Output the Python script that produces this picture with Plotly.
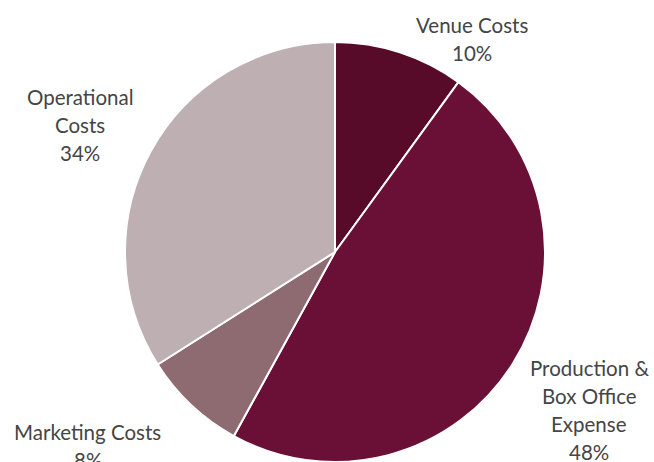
import plotly.graph_objects as go

categories = ["Venue Costs", "Production & Box Office Expense", "Marketing Costs", "Operational Costs"]
values = [10, 48, 8, 34]
colors = ["#580A29", "#6A1036", "#8E6A71", "#BDAFB2"]
# label line breaks as displayed
label_lines = [
    ["Venue Costs"],
    ["Production &", "Box Office", "Expense"],
    ["Marketing Costs"],
    ["Operational", "Costs"],
]

W, H = 654, 462
cx, cy, r = 335, 252, 210

fig = go.Figure(go.Pie(
    labels=categories,
    values=values,
    sort=False,
    direction="clockwise",
    rotation=0,
    marker=dict(colors=colors, line=dict(color="white", width=2)),
    textinfo="none",
    hoverinfo="label+percent",
    showlegend=False,
    domain=dict(x=[(cx - r) / W, (cx + r) / W], y=[(H - cy - r) / H, (H - cy + r) / H]),
))

# label anchor: (center x px, first line y px)
label_pos = [(472, 25), (589, 368), (88, 432), (80, 97)]
line_h = 28
annotations = []
total = sum(values)
for lines, v, (px, py) in zip(label_lines, values, label_pos):
    all_lines = lines + [f"{round(100 * v / total)}%"]
    for i, t in enumerate(all_lines):
        y = py + i * line_h
        annotations.append(dict(
            text=t, x=px / W, y=1 - y / H, xref="paper", yref="paper",
            xanchor="center", yanchor="middle", showarrow=False,
            font=dict(family="Lato, Carlito, sans-serif", size=20.5, color="#454545"),
        ))

fig.update_layout(
    width=W, height=H,
    margin=dict(l=0, r=0, t=0, b=0),
    paper_bgcolor="white", plot_bgcolor="white",
    annotations=annotations,
)

fig.write_html("out.html", config={"displayModeBar": False},
               post_script="document.body.style.margin='0';")
